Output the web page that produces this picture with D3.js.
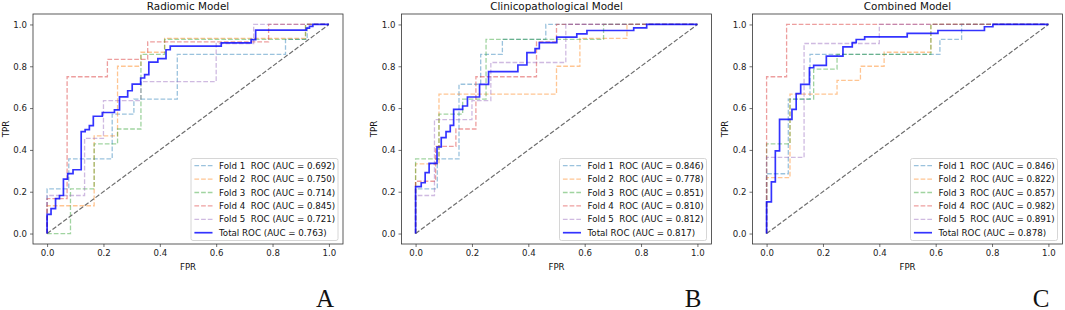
<!DOCTYPE html>
<html><head><meta charset="utf-8">
<script src="https://cdn.jsdelivr.net/npm/d3@7"></script>
<style>
body{margin:0;background:#fff}
svg{display:block;font-family:"DejaVu Sans",sans-serif}
</style></head><body>
<svg id="chart" width="1065" height="310"></svg>
<script>
// ---- data ----
const panelTitles = ["Radiomic Model", "Clinicopathological Model", "Combined Model"];
const panelLetters = ["A", "B", "C"];
const seriesNames = ["Fold 1", "Fold 2", "Fold 3", "Fold 4", "Fold 5", "Total"];
const xTicks = [0, 0.2, 0.4, 0.6, 0.8, 1.0];
const yTicks = [0, 0.2, 0.4, 0.6, 0.8, 1.0];

const radiomicAuc = [0.692, 0.750, 0.714, 0.845, 0.721, 0.763];
const clinicalAuc = [0.846, 0.778, 0.851, 0.810, 0.812, 0.817];
const combinedAuc = [0.846, 0.822, 0.857, 0.982, 0.891, 0.878];

// ROC points: [FPR, TPR]
const radiomicFold1 = [[0,0],[0,0.214],[0.077,0.357],[0.231,0.571],[0.308,0.643],[0.462,0.857],[0.846,0.929],[0.923,1],[1,1]];
const radiomicFold2 = [[0,0],[0,0.133],[0.167,0.467],[0.25,0.8],[0.333,0.867],[0.417,0.933],[0.917,1],[1,1]];
const radiomicFold3 = [[0,0],[0.083,0.214],[0.167,0.429],[0.25,0.5],[0.333,0.857],[0.417,0.929],[0.917,1],[1,1]];
const radiomicFold4 = [[0,0],[0,0.167],[0.071,0.75],[0.214,0.833],[0.357,0.917],[0.786,1],[1,1]];
const radiomicFold5 = [[0,0],[0,0.182],[0.133,0.455],[0.2,0.636],[0.333,0.727],[0.6,0.909],[0.733,1],[1,1]];
const radiomicTotal = [[0,0],[0,0.092],[0.014,0.119],[0.030,0.167],[0.044,0.182],[0.058,0.26],[0.073,0.287],[0.092,0.305],[0.121,0.487],[0.135,0.497],[0.150,0.516],[0.164,0.561],[0.196,0.579],[0.239,0.591],[0.257,0.654],[0.286,0.683],[0.302,0.715],[0.332,0.744],[0.346,0.760],[0.361,0.820],[0.393,0.837],[0.422,0.879],[0.437,0.896],[0.618,0.912],[0.724,0.927],[0.740,0.973],[0.920,0.982],[0.931,0.991],[0.943,1],[1,1]];

const clinicalFold1 = [[0,0],[0,0.214],[0.077,0.357],[0.154,0.714],[0.231,0.857],[0.308,0.929],[0.462,1],[1,1]];
const clinicalFold2 = [[0,0],[0,0.333],[0.083,0.667],[0.5,0.8],[0.583,0.933],[0.75,1],[1,1]];
const clinicalFold3 = [[0,0],[0,0.357],[0.083,0.571],[0.167,0.643],[0.25,0.929],[0.667,1],[1,1]];
const clinicalFold4 = [[0,0],[0,0.25],[0.071,0.417],[0.143,0.5],[0.214,0.75],[0.429,0.917],[0.5,1],[1,1]];
const clinicalFold5 = [[0,0],[0,0.182],[0.067,0.545],[0.2,0.636],[0.267,0.818],[0.533,1],[1,1]];
const clinicalTotal = [[0,0],[0,0.224],[0.020,0.243],[0.034,0.291],[0.048,0.336],[0.076,0.414],[0.091,0.459],[0.108,0.487],[0.123,0.517],[0.135,0.594],[0.167,0.610],[0.184,0.653],[0.227,0.713],[0.259,0.774],[0.363,0.806],[0.395,0.865],[0.424,0.884],[0.439,0.913],[0.501,0.939],[0.572,0.955],[0.608,0.971],[0.774,0.984],[0.820,1],[1,1]];

const combinedFold1 = [[0,0],[0,0.286],[0.077,0.643],[0.154,0.857],[0.615,0.929],[0.692,1],[1,1]];
const combinedFold2 = [[0,0],[0,0.267],[0.083,0.667],[0.25,0.733],[0.333,0.8],[0.417,0.867],[0.583,1],[1,1]];
const combinedFold3 = [[0,0],[0,0.429],[0.083,0.643],[0.167,0.786],[0.25,0.857],[0.583,1],[1,1]];
const combinedFold4 = [[0,0],[0,0.75],[0.071,1],[1,1]];
const combinedFold5 = [[0,0],[0,0.364],[0.133,0.909],[0.4,1],[1,1]];
const combinedTotal = [[0,0],[0,0.151],[0.017,0.247],[0.031,0.395],[0.046,0.546],[0.090,0.594],[0.105,0.669],[0.121,0.713],[0.152,0.793],[0.167,0.804],[0.212,0.849],[0.271,0.893],[0.304,0.913],[0.318,0.928],[0.348,0.941],[0.499,0.957],[0.608,0.971],[0.773,0.989],[0.803,1],[1,1]];

const foldColors = ["#1f77b4", "#ff7f0e", "#2ca02c", "#d62728", "#9467bd"];

// ---- layout ----
const panels = [
  {title: panelTitles[0], letter: panelLetters[0], auc: radiomicAuc, folds: [radiomicFold1, radiomicFold2, radiomicFold3, radiomicFold4, radiomicFold5], total: radiomicTotal, left: 33, letterX: 325},
  {title: panelTitles[1], letter: panelLetters[1], auc: clinicalAuc, folds: [clinicalFold1, clinicalFold2, clinicalFold3, clinicalFold4, clinicalFold5], total: clinicalTotal, left: 401.5, letterX: 693},
  {title: panelTitles[2], letter: panelLetters[2], auc: combinedAuc, folds: [combinedFold1, combinedFold2, combinedFold3, combinedFold4, combinedFold5], total: combinedTotal, left: 752.5, letterX: 1041}
];
const axW = 310, axTop = 14, axBottom = 244;
const svg = d3.select("#chart");
const tickFs = 8.6, legFs = 8.7, titleFs = 10.4;

panels.forEach((p, pi) => {
  const x = d3.scaleLinear().domain([-0.05, 1.05]).range([p.left, p.left + axW]);
  const y = d3.scaleLinear().domain([-0.05, 1.05]).range([axBottom, axTop]);
  const g = svg.append("g");
  const clipId = "clip" + pi;
  g.append("clipPath").attr("id", clipId).append("rect")
    .attr("x", p.left).attr("y", axTop).attr("width", axW).attr("height", axBottom - axTop);
  const plot = g.append("g").attr("clip-path", `url(#${clipId})`);
  const line = d3.line().x(d => x(d[0])).y(d => y(d[1])).curve(d3.curveStepAfter);

  p.folds.forEach((f, i) => {
    plot.append("path").attr("d", line(f)).attr("fill", "none")
      .attr("stroke", foldColors[i]).attr("stroke-opacity", 0.45)
      .attr("stroke-width", 1.3).attr("stroke-dasharray", "4.7,2");
  });
  plot.append("path").attr("d", d3.line().x(d => x(d[0])).y(d => y(d[1]))([[0,0],[1,1]]))
    .attr("fill", "none").attr("stroke", "#6e6e6e").attr("stroke-width", 1.2)
    .attr("stroke-dasharray", "4.7,2");
  plot.append("path").attr("d", line(p.total)).attr("fill", "none")
    .attr("stroke", "#0000ff").attr("stroke-opacity", 0.8).attr("stroke-width", 1.7);

  // axes
  const xa = g.append("g").attr("transform", `translate(0,${axBottom})`)
    .call(d3.axisBottom(x).tickValues(xTicks).tickFormat(d3.format(".1f")).tickSize(3).tickPadding(3));
  const ya = g.append("g").attr("transform", `translate(${p.left},0)`)
    .call(d3.axisLeft(y).tickValues(yTicks).tickFormat(d3.format(".1f")).tickSize(3).tickPadding(3));
  [xa, ya].forEach(a => {
    a.select(".domain").remove();
    a.selectAll(".tick line").attr("stroke", "#333").attr("stroke-width", 0.7);
    a.selectAll(".tick text").attr("font-family", "DejaVu Sans").attr("font-size", tickFs).attr("fill", "#222");
  });
  g.append("rect").attr("x", p.left).attr("y", axTop).attr("width", axW).attr("height", axBottom - axTop)
    .attr("fill", "none").attr("stroke", "#333").attr("stroke-width", 0.8);

  // title & labels
  g.append("text").attr("x", p.left + axW / 2).attr("y", 9.8).attr("text-anchor", "middle")
    .attr("font-size", titleFs).attr("fill", "#111").text(p.title);
  g.append("text").attr("x", x(0.5)).attr("y", 270).attr("text-anchor", "middle")
    .attr("font-size", tickFs).attr("fill", "#111").text("FPR");
  g.append("text").attr("transform", `translate(${p.left - 24.5},${(axTop + axBottom) / 2}) rotate(-90)`)
    .attr("text-anchor", "middle").attr("font-size", tickFs).attr("fill", "#111").text("TPR");
  g.append("text").attr("x", p.letterX).attr("y", 306.5).attr("text-anchor", "middle")
    .attr("font-family", "'Liberation Serif','Times New Roman',serif").attr("font-size", 25)
    .attr("fill", "#111").text(p.letter);

  // legend
  const legW = 147, legH = 82;
  const lx = p.left + axW - 5 - legW, ly = axBottom - 3.5 - legH;
  const lg = g.append("g");
  lg.append("rect").attr("x", lx).attr("y", ly).attr("width", legW).attr("height", legH)
    .attr("rx", 2).attr("fill", "#fff").attr("fill-opacity", 0.8)
    .attr("stroke", "#cccccc").attr("stroke-width", 0.8);
  seriesNames.forEach((s, i) => {
    const cy = ly + 7.2 + i * 13.4;
    const isTotal = i === 5;
    lg.append("line").attr("x1", lx + 3.4).attr("x2", lx + 21.5).attr("y1", cy).attr("y2", cy)
      .attr("stroke", isTotal ? "#0000ff" : foldColors[i])
      .attr("stroke-opacity", isTotal ? 0.8 : 0.45)
      .attr("stroke-width", isTotal ? 1.7 : 1.3)
      .attr("stroke-dasharray", isTotal ? null : "4.7,2");
    const label = isTotal ? `Total ROC (AUC = ${p.auc[i].toFixed(3)})`
                          : `${s}  ROC (AUC = ${p.auc[i].toFixed(3)})`;
    lg.append("text").attr("x", lx + 28).attr("y", cy).attr("dy", "0.35em")
      .attr("font-size", legFs).attr("fill", "#111").style("white-space", "pre").text(label);
  });
});
</script></body></html>
